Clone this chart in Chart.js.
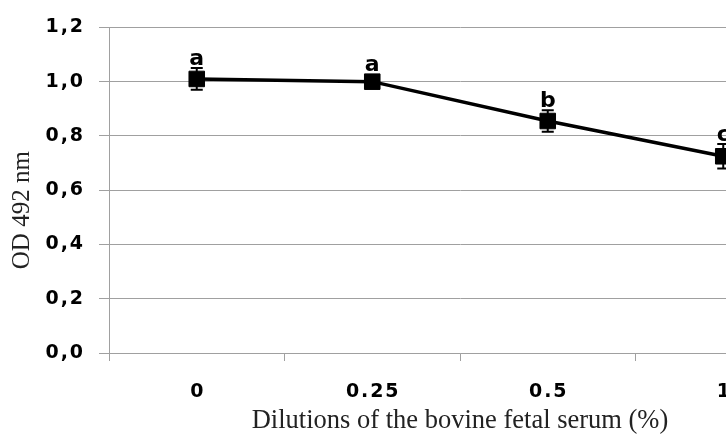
<!DOCTYPE html>
<html>
<head>
<meta charset="utf-8">
<script src="https://cdn.jsdelivr.net/npm/chart.js@4"></script>
<style>
  html, body { margin: 0; padding: 0; background: #fff; overflow: hidden; }
  #wrap { width: 830px; height: 437px; position: relative; }
</style>
</head>
<body>
<div id="wrap"><canvas id="odChart"></canvas></div>
<script>
const dilutions = ['0', '0.25', '0.5', '1'];
const odValues = [1.01, 1.0, 0.855, 0.725];
const odErrors = [0.04, 0.01, 0.04, 0.045];
const groupLetters = ['a', 'a', 'b', 'c'];
const yTicks = [0, 0.2, 0.4, 0.6, 0.8, 1.0, 1.2];

const gridGrey = '#a0a0a0';

// slightly spaced-out tick text like the original
const spaced = s => s.split('').join('\u200A');

const errorBars = {
    id: 'errorBars',
    afterDatasetsDraw(chart) {
        const { ctx, scales: { x, y } } = chart;
        ctx.save();
        ctx.strokeStyle = '#000';
        ctx.lineWidth = 2;
        odValues.forEach((v, i) => {
            const px = x.getPixelForValue(i);
            const top = y.getPixelForValue(v + odErrors[i]);
            const bot = y.getPixelForValue(v - odErrors[i]);
            ctx.beginPath();
            ctx.moveTo(px, top); ctx.lineTo(px, bot);
            ctx.moveTo(px - 6, top); ctx.lineTo(px + 6, top);
            ctx.moveTo(px - 6, bot); ctx.lineTo(px + 6, bot);
            ctx.stroke();
        });

        ctx.fillStyle = '#000';
        ctx.font = 'bold 22px "DejaVu Sans"';
        ctx.textAlign = 'center';
        ctx.textBaseline = 'alphabetic';
        groupLetters.forEach((t, i) => {
            const px = x.getPixelForValue(i);
            const top = Math.min(y.getPixelForValue(odValues[i] + odErrors[i]), y.getPixelForValue(odValues[i]) - 8);
            ctx.fillText(t, px, top - 3);
        });
        ctx.restore();
    }
};

// y title sits a bit below the middle of the axis in the original
const yTitle = {
    id: 'yTitle',
    afterDraw(chart) {
        const { ctx, chartArea } = chart;
        ctx.save();
        ctx.translate(22, (chartArea.top + chartArea.bottom) / 2 + 20);
        ctx.rotate(-Math.PI / 2);
        ctx.fillStyle = '#222';
        ctx.font = '25px "Liberation Serif"';
        ctx.textAlign = 'center';
        ctx.textBaseline = 'middle';
        ctx.fillText('OD 492 nm', 0, 0);
        ctx.restore();
    }
};

new Chart(document.getElementById('odChart'), {
    type: 'line',
    data: {
        labels: dilutions,
        datasets: [{
            data: odValues,
            borderColor: '#000',
            borderWidth: 3.5,
            backgroundColor: '#000',
            pointStyle: 'rect',
            pointRadius: 11,
            pointBorderWidth: 1,
            tension: 0
        }]
    },
    options: {
        responsive: true,
        maintainAspectRatio: false,
        animation: false,
        layout: { padding: { top: 24, right: 19, bottom: 0, left: 0 } },
        plugins: {
            legend: { display: false },
            tooltip: { enabled: false }
        },
        scales: {
            x: {
                offset: true,
                grid: {
                    offset: true,
                    drawOnChartArea: false,
                    drawTicks: true,
                    tickLength: 8,
                    color: gridGrey
                },
                border: { color: gridGrey },
                ticks: {
                    color: '#000',
                    padding: 20,
                    font: { family: 'DejaVu Sans', size: 19, weight: 'bold' },
                    callback: (v, i) => spaced(dilutions[i])
                },
                title: {
                    display: true,
                    text: 'Dilutions of the bovine fetal serum (%)',
                    color: '#222',
                    font: { family: 'Liberation Serif', size: 26.5 },
                    padding: { top: 0, bottom: 0 }
                },
                afterFit: s => { s.height = 84; }
            },
            y: {
                min: 0,
                max: 1.2,
                afterBuildTicks: s => { s.ticks = yTicks.map(v => ({ value: v })); },
                grid: {
                    color: gridGrey,
                    tickLength: 10
                },
                border: { color: gridGrey },
                ticks: {
                    color: '#000',
                    padding: 16,
                    font: { family: 'DejaVu Sans', size: 19, weight: 'bold' },
                    callback: v => spaced(v.toFixed(1).replace('.', ','))
                },
                afterFit: s => { s.width = 109; }
            }
        }
    },
    plugins: [errorBars, yTitle]
});
</script>
</body>
</html>
